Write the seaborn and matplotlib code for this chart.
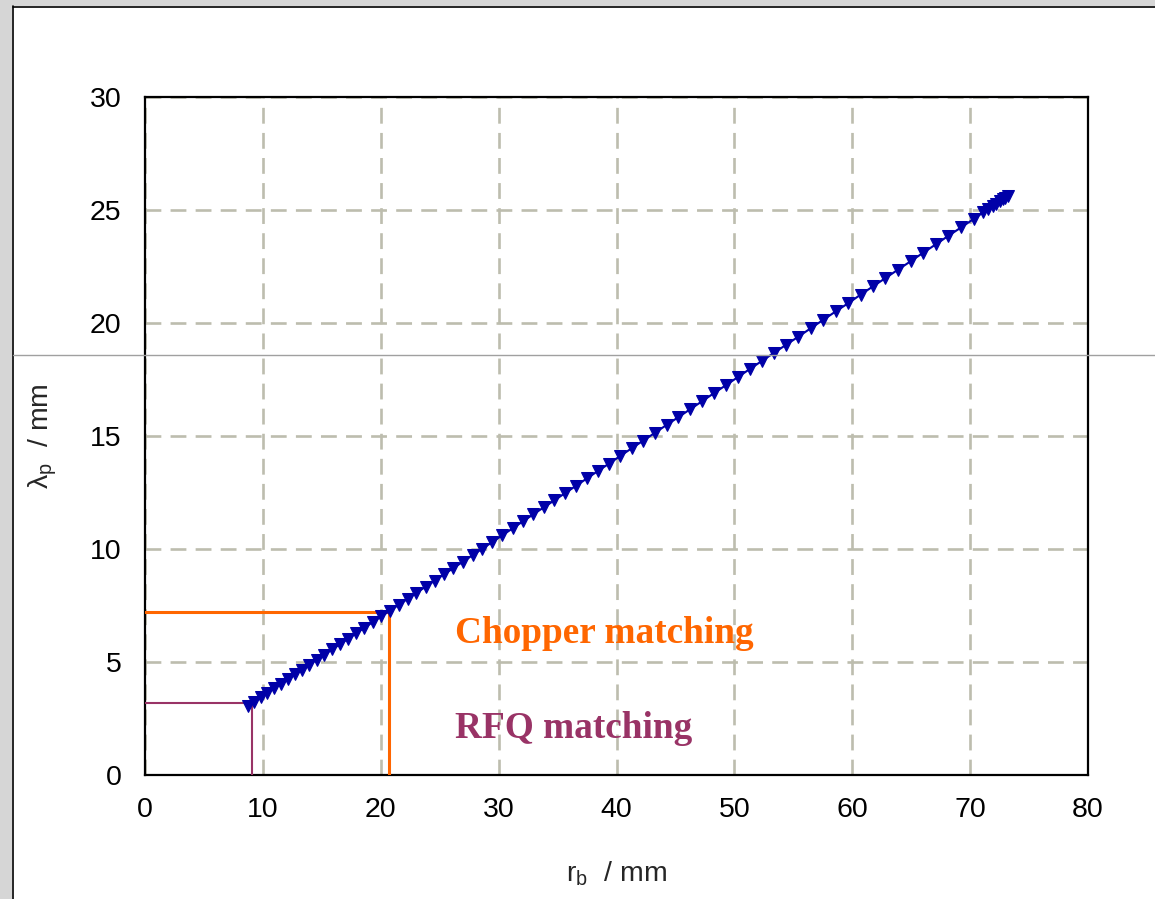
import matplotlib
matplotlib.use("Agg")
import matplotlib.pyplot as plt
import seaborn as sns
import pandas as pd
from matplotlib.lines import Line2D
from matplotlib.patches import Rectangle

# ---- data ----
r_b = [8.7, 9.25, 9.8, 10.36, 10.93, 11.51, 12.1, 12.7, 13.31, 13.93,
       14.57, 15.22, 15.88, 16.55, 17.23, 17.92, 18.62, 19.33, 20.05, 20.78,
       21.52, 22.27, 23.03, 23.8, 24.58, 25.37, 26.17, 26.98, 27.8, 28.63,
       29.47, 30.32, 31.18, 32.05, 32.93, 33.82, 34.72, 35.63, 36.55, 37.48,
       38.42, 39.37, 40.33, 41.3, 42.28, 43.26, 44.25, 45.24, 46.24, 47.24,
       48.25, 49.26, 50.28, 51.3, 52.33, 53.36, 54.4, 55.44, 56.49, 57.54,
       58.59, 59.64, 60.7, 61.76, 62.82, 63.88, 64.95, 66.02, 67.09, 68.16,
       69.24, 70.32, 71.1, 71.5, 71.9, 72.2, 72.5, 72.8, 73.0, 73.2]
lambda_p = [3.05, 3.24, 3.43, 3.63, 3.83, 4.03, 4.24, 4.45, 4.66, 4.88,
            5.10, 5.33, 5.56, 5.79, 6.03, 6.27, 6.52, 6.77, 7.02, 7.27,
            7.53, 7.79, 8.06, 8.33, 8.60, 8.88, 9.16, 9.44, 9.73, 10.02,
            10.31, 10.61, 10.91, 11.22, 11.53, 11.84, 12.15, 12.47, 12.79, 13.12,
            13.45, 13.78, 14.12, 14.46, 14.80, 15.14, 15.49, 15.83, 16.18, 16.53,
            16.89, 17.24, 17.60, 17.96, 18.32, 18.68, 19.04, 19.40, 19.77, 20.14,
            20.51, 20.87, 21.25, 21.62, 21.99, 22.36, 22.73, 23.11, 23.48, 23.86,
            24.23, 24.61, 24.89, 25.03, 25.17, 25.27, 25.38, 25.48, 25.55, 25.62]

rfq_point = [9.1, 3.2]
chopper_point = [20.7, 7.2]
annotations = ["Chopper matching", "RFQ matching"]
x_ticks = [0, 10, 20, 30, 40, 50, 60, 70, 80]
y_ticks = [0, 5, 10, 15, 20, 25, 30]

sns.set_style("white")
plt.rcParams["font.family"] = ["Liberation Sans", "DejaVu Sans"]
plt.rcParams["mathtext.fontset"] = "custom"
plt.rcParams["mathtext.rm"] = "Liberation Sans"

fig = plt.figure(figsize=(11.55, 8.99), dpi=100)
fig.patch.set_facecolor("white")

# window-like border
W, H = 1155, 899
fig.add_artist(Rectangle((0, 0), 12 / W, 1, transform=fig.transFigure,
                         facecolor="#d6d6d6", edgecolor="none", zorder=0))
fig.add_artist(Rectangle((0, 1 - 6 / H), 1, 6 / H, transform=fig.transFigure,
                         facecolor="#d6d6d6", edgecolor="none", zorder=0))
fig.add_artist(Line2D([12.5 / W, 12.5 / W], [0, 1 - 6 / H], transform=fig.transFigure,
                      color="black", lw=1.2, zorder=1))
fig.add_artist(Line2D([12.5 / W, 1], [1 - 6.5 / H, 1 - 6.5 / H], transform=fig.transFigure,
                      color="black", lw=1.2, zorder=1))

ax = fig.add_axes([145 / W, 1 - 775 / H, (1088 - 145) / W, (775 - 97) / H])

df = pd.DataFrame({"r_b": r_b, "lambda_p": lambda_p})
sns.lineplot(data=df, x="r_b", y="lambda_p", ax=ax, color="#0000a8",
             marker="v", markersize=8.5, markeredgecolor="#0000a8",
             linewidth=1.5, sort=False, zorder=5)

# matching lines
ax.plot([0, chopper_point[0], chopper_point[0]], [chopper_point[1], chopper_point[1], 0],
        color="#ff6600", lw=2.2, zorder=4, solid_joinstyle="miter")
ax.plot([0, rfq_point[0], rfq_point[0]], [rfq_point[1], rfq_point[1], 0],
        color="#993366", lw=1.5, zorder=4, solid_joinstyle="miter")

ax.text(26.3, 5.84, annotations[0], color="#ff6600", fontsize=26.8,
        fontweight="bold", family="Liberation Serif", va="baseline", ha="left")
ax.text(26.3, 1.64, annotations[1], color="#993366", fontsize=26.8,
        fontweight="bold", family="Liberation Serif", va="baseline", ha="left")

ax.set_xlim(0, 80)
ax.set_ylim(0, 30)
ax.set_xticks(x_ticks)
ax.set_yticks(y_ticks)
ax.grid(True, color="#bdbdae", linestyle=(0, (6, 3.5)), linewidth=1.9)
ax.set_axisbelow(True)
for s in ax.spines.values():
    s.set_color("black")
    s.set_linewidth(1.6)
ax.tick_params(axis="both", direction="out", length=7, width=1.2, color="black",
               labelsize=20.5, labelcolor="black")
ax.tick_params(axis="x", pad=9)
ax.tick_params(axis="y", pad=10)

ax.set_xlabel(r"r$_\mathregular{b}$  / mm", fontsize=20.5, labelpad=26)
ax.set_ylabel(r"λ$_\mathregular{p}$  / mm", fontsize=20.5, labelpad=22)

# thin horizontal artifact line across the screenshot
fig.add_artist(Line2D([13 / W, 1], [1 - 355 / H, 1 - 355 / H], transform=fig.transFigure,
                      color="#a0a0a0", lw=1.0, zorder=20))

fig.savefig("out.png", dpi=100)
